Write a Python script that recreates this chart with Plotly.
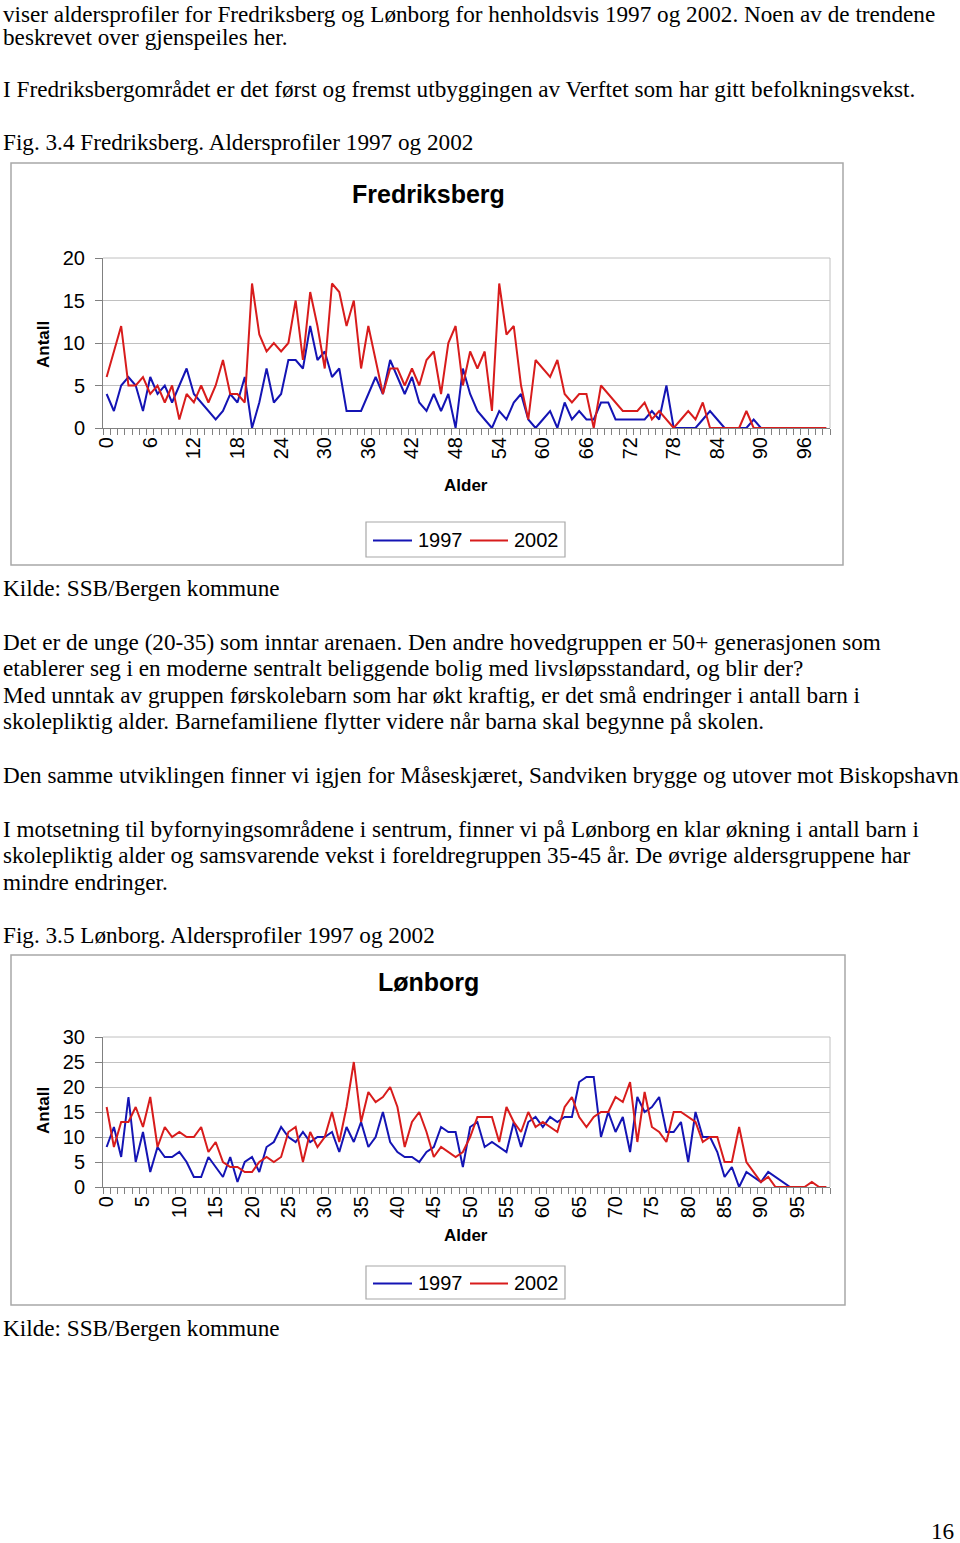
import plotly.graph_objects as go

W, H = 960, 1543

# ages on the category axis
ages = list(range(100))

# Fredriksberg, number of people by age
fred_1997 = [4, 2, 5, 6, 5, 2, 6, 4, 5, 3, 5, 7, 4, 3, 2, 1, 2, 4, 3, 6,
             0, 3, 7, 3, 4, 8, 8, 7, 12, 8, 9, 6, 7, 2, 2, 2, 4, 6, 4, 8,
             6, 4, 6, 3, 2, 4, 2, 4, 0, 7, 4, 2, 1, 0, 2, 1, 3, 4, 1, 0,
             1, 2, 0, 3, 1, 2, 1, 1, 3, 3, 1, 1, 1, 1, 1, 2, 1, 5, 0, 0,
             0, 0, 1, 2, 1, 0, 0, 0, 0, 1, 0]
fred_2002 = [6, 9, 12, 5, 5, 6, 4, 5, 3, 5, 1, 4, 3, 5, 3, 5, 8, 4, 4, 3,
             17, 11, 9, 10, 9, 10, 15, 8, 16, 12, 7, 17, 16, 12, 15, 7, 12, 8, 4, 7,
             7, 5, 7, 5, 8, 9, 4, 10, 12, 5, 9, 7, 9, 2, 17, 11, 12, 5, 1, 8,
             7, 6, 8, 4, 3, 4, 4, 0, 5, 4, 3, 2, 2, 2, 3, 1, 2, 1, 0, 1,
             2, 1, 3, 0, 0, 0, 0, 0, 2, 0, 0, 0, 0, 0, 0, 0, 0, 0, 0, 0]

# Lønborg, number of people by age
lon_1997 = [8, 12, 6, 18, 5, 11, 3, 8, 6, 6, 7, 5, 2, 2, 6, 4, 2, 6, 1, 5,
            6, 3, 8, 9, 12, 10, 9, 11, 9, 10, 10, 11, 7, 12, 9, 13, 8, 10, 15, 9,
            7, 6, 6, 5, 7, 8, 12, 11, 11, 4, 12, 13, 8, 9, 8, 7, 13, 8, 13, 14,
            12, 14, 13, 14, 14, 21, 22, 22, 10, 15, 11, 14, 7, 18, 15, 16, 18, 11, 11, 13,
            5, 15, 10, 10, 7, 2, 4, 0, 3, 2, 1, 3, 2, 1, 0]
lon_2002 = [16, 8, 13, 13, 16, 12, 18, 8, 12, 10, 11, 10, 10, 12, 7, 9, 5, 4, 4, 3,
            3, 5, 6, 5, 6, 11, 12, 5, 11, 8, 10, 15, 9, 16, 25, 13, 19, 17, 18, 20,
            16, 8, 13, 15, 11, 6, 8, 7, 6, 7, 10, 14, 14, 14, 9, 16, 13, 11, 15, 12,
            13, 12, 11, 16, 18, 14, 12, 14, 15, 15, 18, 17, 21, 9, 19, 12, 11, 9, 15, 15,
            14, 13, 9, 10, 10, 5, 5, 12, 5, 3, 1, 2, 0, 0, 0, 0, 0, 1, 0, 0]

fred_ticks = list(range(0, 100, 6))
lon_ticks = list(range(0, 100, 5))
years = ["1997", "2002"]

BLUE = "#1414b4"
RED = "#d81c1c"
SANS = "Liberation Sans, Arial, sans-serif"
SERIF = "Liberation Serif, Times New Roman, serif"


def px(x):
    return x / W


def py(y):
    return 1 - y / H


fig = go.Figure()
fig.add_trace(go.Scatter(x=ages[:len(fred_1997)], y=fred_1997, mode="lines", name=years[0],
                         line=dict(color=BLUE, width=2)))
fig.add_trace(go.Scatter(x=ages[:len(fred_2002)], y=fred_2002, mode="lines", name=years[1],
                         line=dict(color=RED, width=2)))
fig.add_trace(go.Scatter(x=ages[:len(lon_1997)], y=lon_1997, mode="lines", name=years[0],
                         line=dict(color=BLUE, width=2), xaxis="x2", yaxis="y2"))
fig.add_trace(go.Scatter(x=ages[:len(lon_2002)], y=lon_2002, mode="lines", name=years[1],
                         line=dict(color=RED, width=2), xaxis="x2", yaxis="y2"))


def xaxis(ticks):
    return dict(domain=[px(103), px(830)], range=[-0.5, 99.5], automargin=False,
                tickmode="array", tickvals=ticks, ticktext=[str(t) for t in ticks],
                tickangle=-90, ticks="", ticklen=0,
                tickfont=dict(family=SANS, size=20, color="black"),
                showgrid=False, zeroline=False, showline=True,
                linecolor="#808080", linewidth=1,
                minor=dict(tickvals=[a - 0.5 for a in ages + [100]], ticks="outside",
                           ticklen=6, tickcolor="#808080", tickwidth=1, showgrid=False),
                fixedrange=True)


def yaxis(top, bottom, ymax):
    return dict(domain=[py(bottom), py(top)], range=[0, ymax], automargin=False,
                tickmode="linear", tick0=0, dtick=5, ticks="outside", ticklen=7,
                tickcolor="#808080", ticklabelstandoff=6,
                tickfont=dict(family=SANS, size=20, color="black"),
                showgrid=True, gridcolor="#c0c0c0", gridwidth=1,
                zeroline=False, showline=True, linecolor="#808080", linewidth=1,
                fixedrange=True)


fig.update_layout(
    width=W, height=H,
    margin=dict(l=0, r=0, t=0, b=0, pad=0, autoexpand=False),
    paper_bgcolor="white", plot_bgcolor="white",
    xaxis=dict(xaxis(fred_ticks), anchor="y"),
    yaxis=dict(yaxis(258, 428, 20), anchor="x"),
    xaxis2=dict(xaxis(lon_ticks), anchor="y2"),
    yaxis2=dict(yaxis(1037, 1187, 30), anchor="x2"),
    showlegend=False,
)

shapes = []
ann = []
# chart frames
for (x0, y0, x1, y1) in [(11, 163, 843, 565), (11, 955, 845, 1305)]:
    shapes.append(dict(type="rect", xref="paper", yref="paper",
                       x0=px(x0), x1=px(x1), y0=py(y1), y1=py(y0),
                       line=dict(color="#a8a8a8", width=1.5)))
# plot-area borders (top/right in light grey)
for (top, bottom) in [(258, 428), (1037, 1187)]:
    shapes.append(dict(type="line", xref="paper", yref="paper",
                       x0=px(103), x1=px(830), y0=py(top), y1=py(top),
                       line=dict(color="#c0c0c0", width=1)))
    shapes.append(dict(type="line", xref="paper", yref="paper",
                       x0=px(830), x1=px(830), y0=py(bottom), y1=py(top),
                       line=dict(color="#c0c0c0", width=1)))

# legends (box, line sample, label)
for (top, bottom) in [(522, 557), (1266, 1299)]:
    mid = (top + bottom) / 2
    shapes.append(dict(type="rect", xref="paper", yref="paper",
                       x0=px(366), x1=px(565), y0=py(bottom), y1=py(top),
                       line=dict(color="#a8a8a8", width=1.2), fillcolor="white"))
    for (lx0, lx1, tx, col, lab) in [(373, 412, 416, BLUE, years[0]), (470, 508, 512, RED, years[1])]:
        shapes.append(dict(type="line", xref="paper", yref="paper",
                           x0=px(lx0), x1=px(lx1), y0=py(mid + 1), y1=py(mid + 1),
                           line=dict(color=col, width=2)))
        ann.append(dict(text=lab, xref="paper", yref="paper", x=px(tx), y=py(mid),
                        xanchor="left", yanchor="middle", showarrow=False,
                        font=dict(family=SANS, size=20, color="black")))
fig.update_layout(shapes=shapes)

page_lines = [
    (14, "viser aldersprofiler for Fredriksberg og Lønborg for henholdsvis 1997 og 2002. Noen av de trendene"),
    (37, "beskrevet over gjenspeiles her."),
    (89, "I Fredriksbergområdet er det først og fremst utbyggingen av Verftet som har gitt befolkningsvekst."),
    (142, "Fig. 3.4 Fredriksberg. Aldersprofiler 1997 og 2002"),
    (588, "Kilde: SSB/Bergen kommune"),
    (642, "Det er de unge (20-35) som inntar arenaen. Den andre hovedgruppen er 50+ generasjonen som"),
    (668, "etablerer seg i en moderne sentralt beliggende bolig med livsløpsstandard, og blir der?"),
    (695, "Med unntak av gruppen førskolebarn som har økt kraftig, er det små endringer i antall barn i"),
    (721, "skolepliktig alder. Barnefamiliene flytter videre når barna skal begynne på skolen."),
    (775, "Den samme utviklingen finner vi igjen for Måseskjæret, Sandviken brygge og utover mot Biskopshavn"),
    (829, "I motsetning til byfornyingsområdene i sentrum, finner vi på Lønborg en klar økning i antall barn i"),
    (855, "skolepliktig alder og samsvarende vekst i foreldregruppen 35-45 år. De øvrige aldersgruppene har"),
    (882, "mindre endringer."),
    (935, "Fig. 3.5 Lønborg. Aldersprofiler 1997 og 2002"),
    (1328, "Kilde: SSB/Bergen kommune"),
]

for y, t in page_lines:
    ann.append(dict(text=t, xref="paper", yref="paper", x=px(1), y=py(y),
                    xanchor="left", yanchor="middle", showarrow=False,
                    font=dict(family=SERIF, size=23.2, color="black")))
ann.append(dict(text="16", xref="paper", yref="paper", x=px(956), y=py(1531),
                xanchor="right", yanchor="middle", showarrow=False,
                font=dict(family=SERIF, size=23.2, color="black")))

# chart titles and axis titles
for title, ty, alder_y, antall_y in [("Fredriksberg", 194, 485, 345), ("Lønborg", 982, 1235, 1111)]:
    ann.append(dict(text="<b>%s</b>" % title, xref="paper", yref="paper",
                    x=px(428), y=py(ty), xanchor="center", yanchor="middle", showarrow=False,
                    font=dict(family=SANS, size=25, color="black")))
    ann.append(dict(text="<b>Alder</b>", xref="paper", yref="paper",
                    x=px(466), y=py(alder_y), xanchor="center", yanchor="middle", showarrow=False,
                    font=dict(family=SANS, size=17, color="black")))
    ann.append(dict(text="<b>Antall</b>", xref="paper", yref="paper", textangle=-90,
                    x=px(43), y=py(antall_y), xanchor="center", yanchor="middle", showarrow=False,
                    font=dict(family=SANS, size=17, color="black")))
fig.update_layout(annotations=ann)

page_css = ("var s=document.createElement('style');"
            "s.textContent='html,body{margin:0!important;padding:0!important;overflow:hidden!important;}';"
            "document.head.appendChild(s);")

fig.write_html("out.html", config={"displayModeBar": False}, post_script=page_css)
